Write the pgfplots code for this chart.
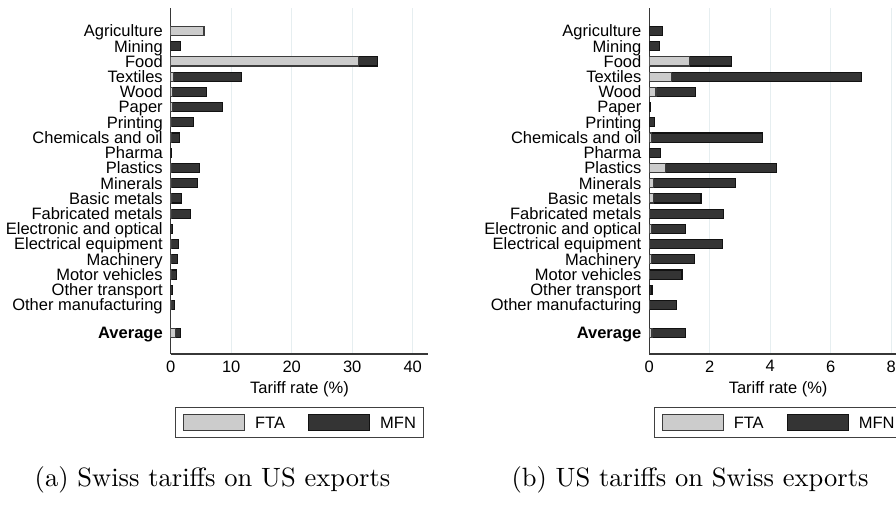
\documentclass[border=0pt]{standalone}
\usepackage{fontspec}
\usepackage{pgfplots}
\usepackage{pgfplotstable}
\pgfplotsset{compat=1.18}
\newfontfamily\arial{Liberation Sans}

\definecolor{ftafill}{RGB}{204,204,204}
\definecolor{ftaline}{RGB}{60,60,60}
\definecolor{mfnfill}{RGB}{52,52,52}
\definecolor{mfnline}{RGB}{18,18,18}
\definecolor{gridc}{RGB}{230,238,240}
\definecolor{axisc}{RGB}{55,55,55}

% Sector positions (top to bottom), FTA segment, MFN segment
\pgfplotstableread{
y     fta   mfn
0     5.50  0.10
1     0.00  1.60
2     31.10 3.05
3     0.40  11.30
4     0.25  5.70
5     0.35  8.25
6     0.15  3.55
7     0.05  1.38
8     0.00  0.11
9     0.15  4.64
10    0.15  4.31
11    0.10  1.72
12    0.10  3.15
13    0.00  0.33
14    0.05  1.27
15    0.05  1.05
16    0.05  0.94
17    0.00  0.33
18    0.05  0.61
19.84 0.75  0.90
}\swisstab

\pgfplotstableread{
y     fta   mfn
0     0.00  0.44
1     0.00  0.34
2     1.34  1.38
3     0.73  6.30
4     0.22  1.31
5     0.00  0.04
6     0.00  0.17
7     0.07  3.68
8     0.00  0.38
9     0.54  3.67
10    0.14  2.72
11    0.14  1.57
12    0.02  2.42
13    0.07  1.13
14    0.02  2.39
15    0.06  1.44
16    0.02  1.06
17    0.00  0.09
18    0.02  0.88
19.84 0.09  1.11
}\ustab

\pgfplotsset{
  tariffpanel/.style={
    scale only axis, width=103.04pt, height=138.4pt,
    anchor=south west,
    xbar stacked, bar width=0.6,
    y dir=reverse, ymin=-1.51, ymax=21.22, xmin=0,
    ytick={0,1,2,3,4,5,6,7,8,9,10,11,12,13,14,15,16,17,18,19.84},
    yticklabels={Agriculture,Mining,Food,Textiles,Wood,Paper,Printing\ ,Chemicals and oil,Pharma,Plastics,Minerals,Basic metals,Fabricated metals,Electronic and optical,Electrical equipment,Machinery,Motor vehicles,Other transport,Other manufacturing\ ,\textbf{Average}},
    axis x line*=bottom, axis y line*=left,
    axis line style={axisc, line width=0.55pt, -},
    major tick length=0pt,
    xmajorgrids, major grid style={gridc, line width=0.4pt},
    tick label style={font=\arial\fontsize{6.6}{7.9}\selectfont},
    /pgf/number format/assume math mode=true,
    yticklabel style={anchor=east, inner xsep=0pt, xshift=-3pt, text height=4.7pt, text depth=0pt},
    xticklabel style={anchor=north, inner ysep=0pt, yshift=-2.4pt},
    xlabel={Tariff rate (\%)},
    xlabel style={font=\arial\fontsize{6.6}{7.9}\selectfont, at={(axis description cs:0.5,0)}, anchor=center, yshift=-14.2pt},
    legend columns=2,
    legend image code/.code={\draw[##1, line width=0.45pt] (0pt,-3.2pt) rectangle (24.4pt,3.2pt);},
    legend style={at={(axis description cs:0.5,-0.198)}, anchor=center,
      draw=black!75, line width=0.45pt, fill=white,
      inner xsep=3pt, inner ysep=2.6pt,
      font=\arial\fontsize{6.6}{7.9}\selectfont,
      column sep=4pt,
      /tikz/every even column/.append style={column sep=9.2pt},
      nodes={inner sep=0pt, text height=4.7pt, text depth=0pt}},
  },
  ftabar/.style={fill=ftafill, draw=ftaline, line width=0.45pt},
  mfnbar/.style={fill=mfnfill, draw=mfnline, line width=0.45pt},
}

\begin{document}
\begin{tikzpicture}
\useasboundingbox (0pt,0pt) rectangle (358.4pt,-201.6pt);
\clip (0pt,0pt) rectangle (358.4pt,-201.6pt);

% (a) Swiss tariffs on US exports
\begin{axis}[tariffpanel, at={(68.28pt,-141.6pt)},
  xmax=42.58, xtick={0,10,20,30,40}]
  \addplot[ftabar] table[x=fta, y=y] {\swisstab};
  \addplot[mfnbar] table[x=mfn, y=y] {\swisstab};
  \legend{FTA, MFN}
\end{axis}

% (b) US tariffs on Swiss exports
\begin{axis}[tariffpanel, at={(259.72pt,-141.6pt)},
  xmax=8.52, xtick={0,2,4,6,8}]
  \addplot[ftabar] table[x=fta, y=y] {\ustab};
  \addplot[mfnbar] table[x=mfn, y=y] {\ustab};
  \legend{FTA, MFN}
\end{axis}

\node[font=\fontsize{10.6}{12.7}\selectfont] at (85pt,-192pt) {(a) Swiss tariffs on US exports};
\node[font=\fontsize{10.6}{12.7}\selectfont] at (276pt,-192pt) {(b) US tariffs on Swiss exports};
\end{tikzpicture}
\end{document}
